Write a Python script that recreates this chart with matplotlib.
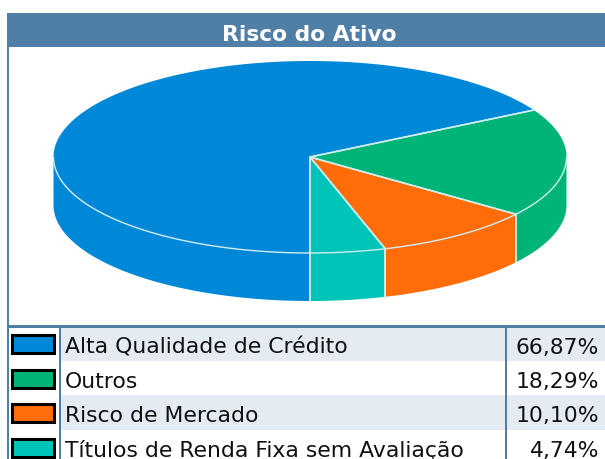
import numpy as np
import matplotlib
matplotlib.use("Agg")
import matplotlib.pyplot as plt
import matplotlib.patches as pat

# --- data ---
title = "Risco do Ativo"
labels = ["Alta Qualidade de Crédito", "Outros", "Risco de Mercado",
          "Títulos de Renda Fixa sem Avaliação"]
values = [66.87, 18.29, 10.10, 4.74]
colors = ["#0088d8", "#00b478", "#ff6c0a", "#00c4b8"]

border = "#4f7fa6"
stripe = "#e4ebf3"
edge = "#cfeef0"

# pie geometry (pixels)
cx, cy = 310, 157
rx, ry = 256.5, 96
depth = 48


def ell(angles):
    a = np.radians(angles)
    return cx + rx * np.cos(a), cy - ry * np.sin(a)


fig = plt.figure(figsize=(6.05, 4.59), dpi=100, facecolor="white")
ax = fig.add_axes([0, 0, 1, 1])
ax.set_xlim(0, 605)
ax.set_ylim(459, 0)
ax.axis("off")

# header and frame
ax.add_patch(pat.Rectangle((7, 13), 598, 34, facecolor=border, edgecolor="none"))
ax.add_patch(pat.Rectangle((7, 13), 2.2, 446, facecolor=border, edgecolor="none"))
ax.text(309, 41, title, color="white", fontsize=15.7, fontweight="bold",
        ha="center", va="baseline")

# slices, clockwise from the bottom of the ellipse
sweep = np.array(values) / np.sum(values) * 360
ends = 270 - np.cumsum(sweep)
starts = ends + sweep

# side walls first, only the part facing the viewer
for s, e, c in zip(starts, ends, colors):
    t = np.linspace(s, e, 400)
    t = t[np.sin(np.radians(t)) <= 0]
    x, y = ell(t)
    ax.fill(np.concatenate([x, x[::-1]]), np.concatenate([y, y[::-1] + depth]),
            color=c, lw=0, zorder=2)

# top faces
for s, e, c in zip(starts, ends, colors):
    t = np.linspace(s, e, 200)
    x, y = ell(t)
    ax.fill(np.concatenate([[cx], x]), np.concatenate([[cy], y]), color=c, lw=0, zorder=3)

# light edges
for s, e in zip(starts, ends):
    t = np.linspace(s, e, 200)
    x, y = ell(t)
    ax.plot([cx, x[0]], [cy, y[0]], color=edge, lw=1.1, zorder=4)
    ax.plot([cx, x[-1]], [cy, y[-1]], color=edge, lw=1.1, zorder=4)
    vis = np.sin(np.radians(t)) < 0
    ax.plot(x[vis], y[vis], color=edge, lw=1.0, zorder=4)
    for a in (s, e):
        if np.sin(np.radians(a)) < -0.01:
            px, py = ell(a)
            ax.plot([px, px], [py, py + depth], color=edge, lw=1.1, zorder=4)

# table
row_top = 326
row_h = 34.67
text_h = 34.2
ax.add_patch(pat.Rectangle((7, 325), 598, 3, facecolor=border, edgecolor="none", zorder=6))
for i, (lab, v, c) in enumerate(zip(labels, values, colors)):
    y0 = row_top + i * row_h
    if i % 2 == 0:
        ax.add_patch(pat.Rectangle((60, y0), 545, row_h, facecolor=stripe,
                                   edgecolor="none", zorder=1))
    ax.add_patch(pat.Rectangle((12.1, y0 + 9.1), 41.8, 17.8, facecolor=c,
                               edgecolor="black", lw=2.2, zorder=5))
    base = 354 + i * text_h
    ax.text(65, base, lab, fontsize=15.75, color="#111111", va="baseline", ha="left", zorder=5)
    ax.text(599, base, f"{v:.2f}%".replace(".", ","), fontsize=15.75,
            color="#111111", va="baseline", ha="right", zorder=5)
ax.add_patch(pat.Rectangle((58.7, 327), 2, 132, facecolor=border, edgecolor="none", zorder=6))
ax.add_patch(pat.Rectangle((505, 327), 2, 132, facecolor=border, edgecolor="none", zorder=6))

fig.savefig("out.png", dpi=100)
